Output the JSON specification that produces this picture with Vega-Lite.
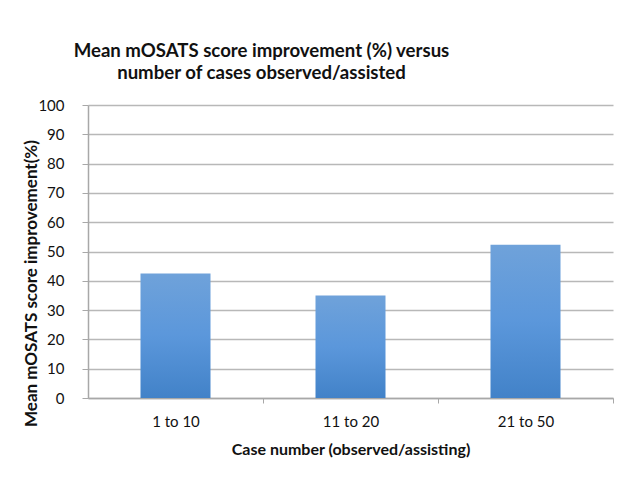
{
  "$schema": "https://vega.github.io/schema/vega-lite/v6.json",
  "width": 525,
  "height": 293,
  "autosize": {"type": "none"},
  "padding": {"left": 88, "top": 105, "right": 17, "bottom": 82},
  "background": "white",
  "title": {
    "text": ["Mean mOSATS score improvement (%) versus", "number of cases observed/assisted"],
    "font": "Lato",
    "fontSize": 18.6,
    "fontWeight": "bold",
    "color": "#111111",
    "anchor": "middle",
    "frame": "group",
    "dx": -89,
    "offset": 0,
    "lineHeight": 22,
    "baseline": "alphabetic"
  },
  "data": {
    "values": [
      {"cases": "1 to 10", "improvement": 42.5},
      {"cases": "11 to 20", "improvement": 35},
      {"cases": "21 to 50", "improvement": 52.3}
    ]
  },
  "mark": {
    "type": "bar",
    "color": {
      "gradient": "linear",
      "x1": 0, "y1": 0, "x2": 0, "y2": 1,
      "stops": [
        {"offset": 0, "color": "#6fa2da"},
        {"offset": 0.5, "color": "#5b97db"},
        {"offset": 1, "color": "#4282c8"}
      ]
    }
  },
  "encoding": {
    "x": {
      "field": "cases",
      "type": "nominal",
      "sort": null,
      "scale": {"paddingInner": 0.6, "paddingOuter": 0.3},
      "axis": {
        "title": "Case number (observed/assisting)",
        "titleFont": "Lato",
        "titleFontSize": 16,
        "titleFontWeight": "bold",
        "titleColor": "#111111",
        "titlePadding": 12,
        "labelFont": "Lato",
        "labelFontSize": 15,
        "labelColor": "#111111",
        "labelAngle": 0,
        "labelPadding": 11,
        "tickOffset": 87.5,
        "labelOffset": -87.5,
        "tickSize": 5,
        "tickColor": "#a8a8a8",
        "domainColor": "#a8a8a8",
        "domainWidth": 1.5,
        "grid": false
      }
    },
    "y": {
      "field": "improvement",
      "type": "quantitative",
      "scale": {"domain": [0, 100], "nice": false},
      "axis": {
        "title": "Mean mOSATS score improvement(%)",
        "titleFont": "Lato",
        "titleFontSize": 17,
        "titleFontWeight": "bold",
        "titleColor": "#111111",
        "titleX": -57,
        "titleY": 178,
        "titleBaseline": "middle",
        "titleAnchor": null,
        "labelFont": "Lato",
        "labelFontSize": 15,
        "labelColor": "#111111",
        "labelPadding": 18,
        "values": [0, 10, 20, 30, 40, 50, 60, 70, 80, 90, 100],
        "tickSize": 6,
        "tickColor": "#a8a8a8",
        "domainColor": "#a8a8a8",
        "domainWidth": 1.5,
        "grid": true,
        "gridColor": "#b8b8b8",
        "gridWidth": 1.3
      }
    }
  },
  "config": {"view": {"stroke": null}}
}
